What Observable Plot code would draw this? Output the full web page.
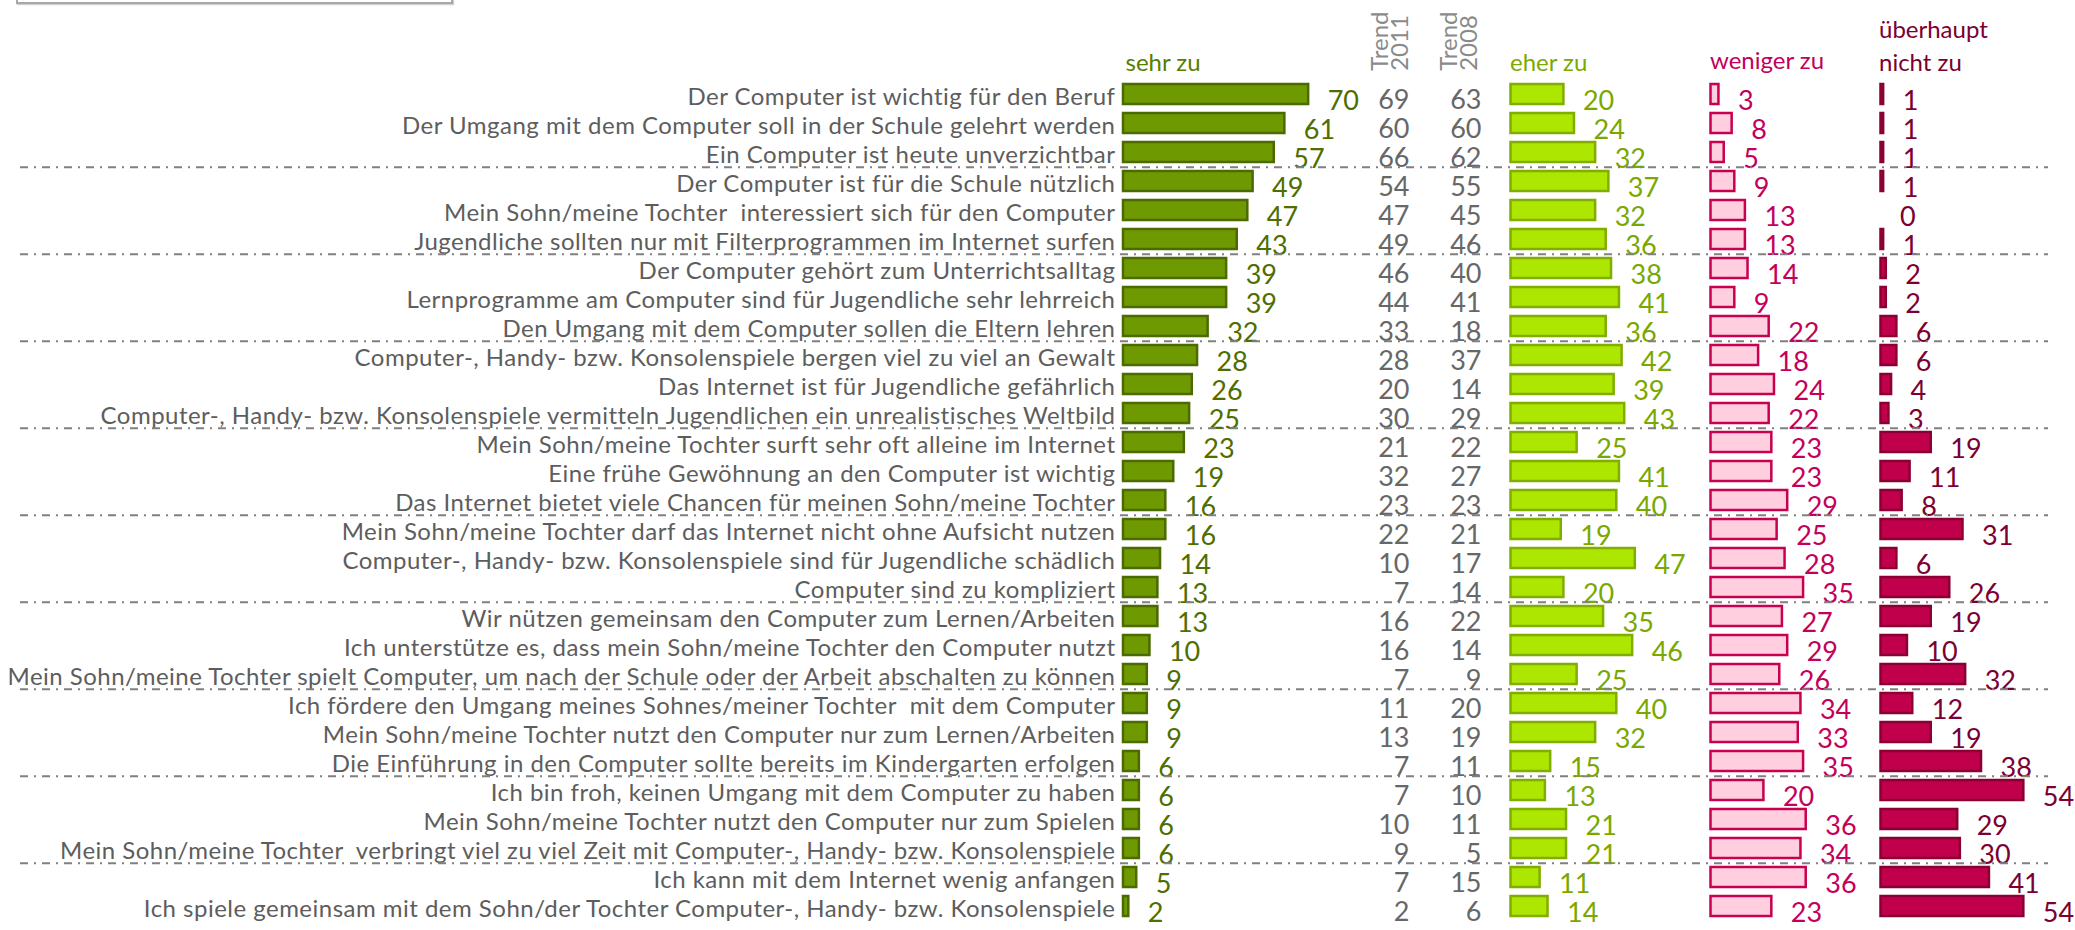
<!DOCTYPE html>
<html><head><meta charset="utf-8">
<script src="https://cdn.jsdelivr.net/npm/d3@7"></script>
<script src="https://cdn.jsdelivr.net/npm/@observablehq/plot@0.6"></script>
<style>
body{margin:0;background:#fff;}
#wrap{position:relative;width:2075px;height:930px;overflow:hidden;}
#box{position:absolute;left:16px;top:-20px;width:433px;height:20px;border:2px solid #a8a8a8;box-shadow:1px 1px 1px #d0d0d0;}
svg text{white-space:pre;}
</style></head><body>
<div id="wrap"><div id="box"></div></div>
<script>
const statements = [
"Der Computer ist wichtig für den Beruf",
"Der Umgang mit dem Computer soll in der Schule gelehrt werden",
"Ein Computer ist heute unverzichtbar",
"Der Computer ist für die Schule nützlich",
"Mein Sohn/meine Tochter  interessiert sich für den Computer",
"Jugendliche sollten nur mit Filterprogrammen im Internet surfen",
"Der Computer gehört zum Unterrichtsalltag",
"Lernprogramme am Computer sind für Jugendliche sehr lehrreich",
"Den Umgang mit dem Computer sollen die Eltern lehren",
"Computer-, Handy- bzw. Konsolenspiele bergen viel zu viel an Gewalt",
"Das Internet ist für Jugendliche gefährlich",
"Computer-, Handy- bzw. Konsolenspiele vermitteln Jugendlichen ein unrealistisches Weltbild",
"Mein Sohn/meine Tochter surft sehr oft alleine im Internet",
"Eine frühe Gewöhnung an den Computer ist wichtig",
"Das Internet bietet viele Chancen für meinen Sohn/meine Tochter",
"Mein Sohn/meine Tochter darf das Internet nicht ohne Aufsicht nutzen",
"Computer-, Handy- bzw. Konsolenspiele sind für Jugendliche schädlich",
"Computer sind zu kompliziert",
"Wir nützen gemeinsam den Computer zum Lernen/Arbeiten",
"Ich unterstütze es, dass mein Sohn/meine Tochter den Computer nutzt",
"Mein Sohn/meine Tochter spielt Computer, um nach der Schule oder der Arbeit abschalten zu können",
"Ich fördere den Umgang meines Sohnes/meiner Tochter  mit dem Computer",
"Mein Sohn/meine Tochter nutzt den Computer nur zum Lernen/Arbeiten",
"Die Einführung in den Computer sollte bereits im Kindergarten erfolgen",
"Ich bin froh, keinen Umgang mit dem Computer zu haben",
"Mein Sohn/meine Tochter nutzt den Computer nur zum Spielen",
"Mein Sohn/meine Tochter  verbringt viel zu viel Zeit mit Computer-, Handy- bzw. Konsolenspiele",
"Ich kann mit dem Internet wenig anfangen",
"Ich spiele gemeinsam mit dem Sohn/der Tochter Computer-, Handy- bzw. Konsolenspiele"
];
const sehrZu     = [70,61,57,49,47,43,39,39,32,28,26,25,23,19,16,16,14,13,13,10,9,9,9,6,6,6,6,5,2];
const trend2011  = [69,60,66,54,47,49,46,44,33,28,20,30,21,32,23,22,10,7,16,16,7,11,13,7,7,10,9,7,2];
const trend2008  = [63,60,62,55,45,46,40,41,18,37,14,29,22,27,23,21,17,14,22,14,9,20,19,11,10,11,5,15,6];
const eherZu     = [20,24,32,37,32,36,38,41,36,42,39,43,25,41,40,19,47,20,35,46,25,40,32,15,13,21,21,11,14];
const wenigerZu  = [3,8,5,9,13,13,14,9,22,18,24,22,23,23,29,25,28,35,27,29,26,34,33,35,20,36,34,36,23];
const nichtZu    = [1,1,1,1,0,1,2,2,6,6,4,3,19,11,8,31,6,26,19,10,32,12,19,38,54,29,30,41,54];
const columnHeaders = ["sehr zu", "eher zu", "weniger zu", "überhaupt\nnicht zu"];
const trendHeaders = ["Trend\n2011", "Trend\n2008"];

const rows = statements.map((s, i) => ({
  label: s, sehr: sehrZu[i], t11: trend2011[i], t08: trend2008[i],
  eher: eherZu[i], weniger: wenigerZu[i], nicht: nichtZu[i]
}));
const separators = statements.filter((d, i) => (i + 1) % 3 === 0 && i < statements.length - 1);

// layout (pixels)
const W = 2075, H = 930;
const K = 2.645;            // px per percent point
const X0 = 1123;            // start of first bar column
const Y0 = 74.3, Y1 = 926.6;
const step = (Y1 - Y0) / statements.length;
const off = {sehr: 0, eher: 387.5, weniger: 587.5, nicht: 757.5};
const gap = 19;
const numFont = 27;
const labelWidthTarget = 1108; // width of the longest statement label

const C = {
  label: "#5d5d5d", trend: "#676767", trendHead: "#8a8a8a",
  sehrFill: "#6f9900", sehrStroke: "#4b6a00", sehrText: "#4f6e00",
  eherFill: "#ade600", eherStroke: "#80ad00", eherText: "#7aa800",
  wenFill: "#ffcfe0", wenStroke: "#c8004f", wenText: "#c4005a",
  nichtFill: "#c0004b", nichtStroke: "#8a0033", nichtText: "#7c0031",
  rule: "#808080"
};

function barCol(key, fill, stroke, textFill) {
  return [
    Plot.barX(rows, {x: key, y: "label", dx: off[key], fill, stroke, strokeWidth: 2.5}),
    Plot.text(rows, {x: key, y: "label", text: key, dx: off[key] + gap, dy: 7,
      textAnchor: "start", fill: textFill, fontSize: numFont})
  ];
}

const chart = Plot.plot({
  width: W, height: H,
  marginLeft: X0, marginRight: 0, marginTop: Y0, marginBottom: H - Y1,
  style: {fontFamily: "Lato, sans-serif", fontSize: "22px", color: C.label, background: "transparent"},
  x: {domain: [0, 100], range: [X0, X0 + 100 * K], axis: null},
  y: {domain: statements, range: [Y0, Y1], paddingInner: 0.3, paddingOuter: 0.15, label: null},
  marks: [
    Plot.axisY({tickSize: 0, tickPadding: 8, fontSize: 24, fill: C.label, dy: 3, label: null}),
    ...barCol("sehr", C.sehrFill, C.sehrStroke, C.sehrText),
    ...barCol("eher", C.eherFill, C.eherStroke, C.eherText),
    ...barCol("weniger", C.wenFill, C.wenStroke, C.wenText),
    ...barCol("nicht", C.nichtFill, C.nichtStroke, C.nichtText),
    Plot.text(rows, {y: "label", text: "t11", frameAnchor: "left", dx: 286, dy: 6, textAnchor: "end", fill: C.trend, fontSize: numFont}),
    Plot.text(rows, {y: "label", text: "t08", frameAnchor: "left", dx: 358, dy: 6, textAnchor: "end", fill: C.trend, fontSize: numFont}),
    // column headers
    Plot.text([columnHeaders[0]], {frameAnchor: "top-left", dx: 2, dy: -4, textAnchor: "start", lineAnchor: "bottom", fill: "#5a7d00", fontSize: 24}),
    Plot.text([columnHeaders[1]], {frameAnchor: "top-left", dx: off.eher - 1, dy: -4, textAnchor: "start", lineAnchor: "bottom", fill: "#7cab00", fontSize: 24}),
    Plot.text([columnHeaders[2]], {frameAnchor: "top-left", dx: off.weniger - 1, dy: -6, textAnchor: "start", lineAnchor: "bottom", fill: "#c4005a", fontSize: 24}),
    Plot.text([columnHeaders[3]], {frameAnchor: "top-left", dx: off.nicht - 2, dy: -4, textAnchor: "start", lineAnchor: "bottom", lineHeight: 1.35, fill: "#7c0031", fontSize: 24}),
    Plot.text([trendHeaders[0]], {frameAnchor: "top-left", dx: 250, dy: -4, rotate: -90, textAnchor: "start", lineAnchor: "top", lineHeight: 0.85, fill: C.trendHead, fontSize: 24}),
    Plot.text([trendHeaders[1]], {frameAnchor: "top-left", dx: 319, dy: -4, rotate: -90, textAnchor: "start", lineAnchor: "top", lineHeight: 0.85, fill: C.trendHead, fontSize: 24}),
    // group separators
    Plot.ruleY(separators, {y: d => d, dy: step / 2, x1: (20 - X0) / K, x2: (2048 - X0) / K,
      stroke: C.rule, strokeWidth: 2, strokeDasharray: "8,6,2,6"})
  ]
});
document.getElementById("wrap").appendChild(chart);
chart.style.position = "absolute";
chart.style.left = "0px";
chart.style.top = "0px";

// fit the statement labels to the reference width with a small letter spacing
const labels = d3.select(chart).selectAll("g[aria-label='y-axis tick label'] text");
let maxW = 0, maxN = 1;
labels.each(function () {
  const w = this.getComputedTextLength();
  if (w > maxW) { maxW = w; maxN = this.textContent.length; }
});
if (maxW > 0) {
  const ls = Math.max(-1, Math.min(1.5, (labelWidthTarget - maxW) / maxN));
  labels.style("letter-spacing", ls + "px");
}
</script>
</body></html>
